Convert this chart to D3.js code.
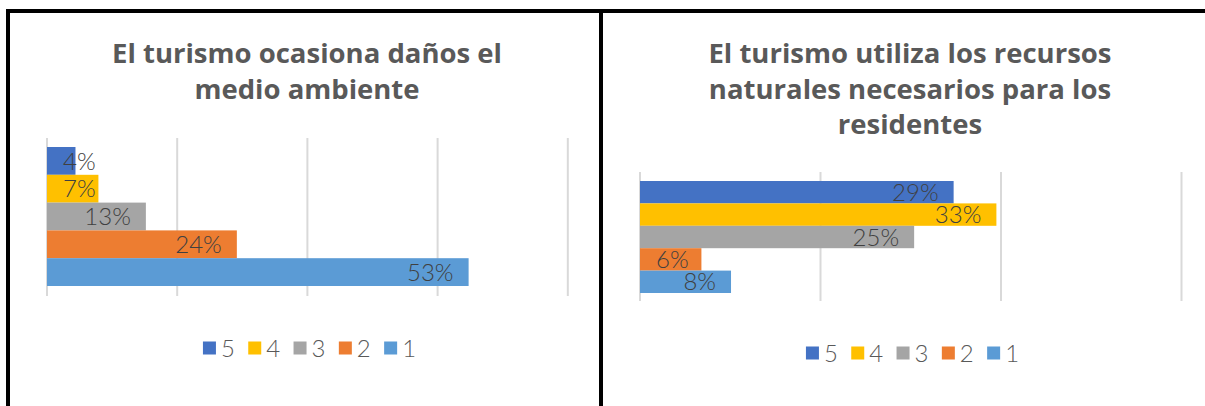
<!DOCTYPE html>
<html><head><meta charset="utf-8">
<script src="https://cdn.jsdelivr.net/npm/d3@7"></script>
<style>body{margin:0;background:#fff} svg{display:block}</style>
</head><body><svg id="c" width="1205" height="406"></svg>
<script>
// ---- data ----
const seriesNames = ["5", "4", "3", "2", "1"];
const seriesColors = ["#4472C4", "#FFC000", "#A5A5A5", "#ED7D31", "#5B9BD5"];

const leftTitle = ["El turismo ocasiona daños el", "medio ambiente"];
const leftValues = [3.6, 6.5, 12.5, 24.0, 53.3];
const leftLabels = ["4%", "7%", "13%", "24%", "53%"];
const leftTicks = [0, 16.46, 32.92, 49.38, 65.84];

const rightTitle = ["El turismo utiliza los recursos", "naturales necesarios para los", "residentes"];
const rightValues = [28.6, 32.5, 25.0, 5.6, 8.3];
const rightLabels = ["29%", "33%", "25%", "6%", "8%"];
const rightTicks = [0, 16.46, 32.92, 49.38];

// ---- layout ----
const svg = d3.select("#c");
svg.append("rect").attr("width", 1205).attr("height", 406).attr("fill", "#fff");

const FONT = "Lato, 'Open Sans', sans-serif";
const TITLE_FONT = "'Open Sans', Lato, sans-serif";

function drawChart(cfg) {
  const g = svg.append("g");
  const x = d3.scaleLinear().domain([0, cfg.ticks[cfg.ticks.length - 1]]).range(cfg.xRange);
  const y = d3.scaleBand().domain(seriesNames).range(cfg.barY).padding(0);
  const color = d3.scaleOrdinal().domain(seriesNames).range(seriesColors);

  // title
  g.append("text")
    .attr("text-anchor", "middle")
    .attr("font-family", TITLE_FONT).attr("font-weight", 700)
    .attr("font-size", cfg.titleSize).attr("fill", "#595959")
    .selectAll("tspan").data(cfg.title).join("tspan")
    .attr("x", cfg.titleX).attr("y", (d, i) => cfg.titleY + i * cfg.titleLH)
    .text(d => d);

  // gridlines
  g.append("g").selectAll("line").data(cfg.ticks).join("line")
    .attr("x1", d => x(d)).attr("x2", d => x(d))
    .attr("y1", cfg.plotY[0]).attr("y2", cfg.plotY[1])
    .attr("stroke", "#D9D9D9").attr("stroke-width", 2);

  const data = seriesNames.map((s, i) => ({ s, v: cfg.values[i], label: cfg.labels[i] }));

  // bars
  g.append("g").selectAll("rect").data(data).join("rect")
    .attr("x", x(0)).attr("y", d => y(d.s))
    .attr("width", d => x(d.v) - x(0)).attr("height", y.bandwidth())
    .attr("fill", d => color(d.s));

  // labels (inside end)
  const lab = g.append("g").selectAll("text").data(data).join("text")
    .attr("font-family", FONT).attr("font-weight", 300)
    .attr("font-size", 24).attr("fill", "#404040")
    .attr("text-anchor", "end")
    .attr("y", d => y(d.s) + y.bandwidth() / 2 + 8.6)
    .text(d => d.label);
  lab.attr("x", function (d) {
    const w = this.getComputedTextLength();
    return Math.max(x(d.v) - 15, x(0) + 16 + w);
  });

  // legend
  const step = 45.3, sq = 13, gap = 5;
  const leg = g.append("g");
  const items = leg.selectAll("g").data(seriesNames).join("g")
    .attr("transform", (d, i) => `translate(${i * step},0)`);
  items.append("rect").attr("x", 0).attr("y", cfg.legendY - sq / 2)
    .attr("width", sq).attr("height", sq).attr("fill", d => color(d));
  items.append("text").attr("x", sq + gap).attr("y", cfg.legendY + 8.5)
    .attr("font-family", FONT).attr("font-weight", 300)
    .attr("font-size", 24).attr("fill", "#595959").text(d => d);
  const bb = leg.node().getBBox();
  leg.attr("transform", `translate(${cfg.legendX - bb.width / 2},0)`);
}

drawChart({
  title: leftTitle, titleX: 307, titleY: 63, titleLH: 36, titleSize: 27.5,
  values: leftValues, labels: leftLabels, ticks: leftTicks,
  xRange: [47, 567.8], plotY: [138, 296], barY: [147, 286],
  legendX: 309.5, legendY: 348
});
drawChart({
  title: rightTitle, titleX: 910, titleY: 63, titleLH: 35.5, titleSize: 27.5,
  values: rightValues, labels: rightLabels, ticks: rightTicks,
  xRange: [640, 1181.5], plotY: [172, 301], barY: [181, 293],
  legendX: 912.5, legendY: 353
});

// black frame lines
const frame = svg.append("g").attr("fill", "#000");
frame.append("rect").attr("x", 6).attr("y", 9).attr("width", 1199).attr("height", 4);
frame.append("rect").attr("x", 6).attr("y", 9).attr("width", 4).attr("height", 397);
frame.append("rect").attr("x", 599).attr("y", 9).attr("width", 4).attr("height", 397);
</script>
</body></html>
